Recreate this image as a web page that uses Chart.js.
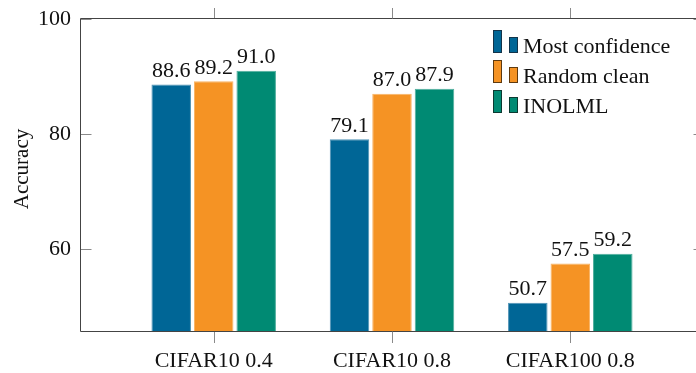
<!DOCTYPE html>
<html>
<head>
<meta charset="utf-8">
<script src="https://cdn.jsdelivr.net/npm/chart.js@4.4.1/dist/chart.umd.min.js"></script>
<style>
  html, body { margin: 0; padding: 0; background: #fff; overflow: hidden; width: 696px; height: 373px; }
  canvas { display: block; }
</style>
</head>
<body>
<canvas id="chart" width="712" height="373" style="width:712px;height:373px"></canvas>
<script>
// Categories and accuracy values per method
const categories = ['CIFAR10 0.4', 'CIFAR10 0.8', 'CIFAR100 0.8'];
const seriesNames = ['Most confidence', 'Random clean', 'INOLML'];
const mostConfidence = [88.6, 79.1, 50.7];
const randomClean = [89.2, 87.0, 57.5];
const inolml = [91.0, 87.9, 59.2];
const yTickValues = [60, 80, 100];

const series = [mostConfidence, randomClean, inolml];

const FONT_FAMILY = '"Liberation Serif", "Times New Roman", serif';
const TEXT_COLOR = '#111';
const fills = ['#006696', '#f59324', '#008a73'];
const edges = ['#4f92b5', '#f8b466', '#4fae9d'];
const outlines = ['#13344a', '#5e3a10', '#0c3a31'];

const toPoints = vals => vals.map((v, i) => ({ x: i, y: v }));

// Axis frame with inward y ticks and outward x ticks, value labels, title and legend
const framePlugin = {
  id: 'frame',
  afterDatasetsDraw(chart) {
    const { ctx, scales } = chart;
    const L = 80.5, R = 704.5, T = 18.5, B = 331.5;
    ctx.save();
    ctx.lineWidth = 1;
    ctx.strokeStyle = '#8a8a8a';
    ctx.beginPath();
    yTickValues.forEach(v => {
      const py = Math.round(scales.y.getPixelForValue(v)) + 0.5;
      ctx.moveTo(L, py); ctx.lineTo(L + 11, py);
      ctx.moveTo(R, py); ctx.lineTo(R - 11, py);
    });
    categories.forEach((c, i) => {
      const px = Math.round(scales.x.getPixelForValue(i)) + 0.5;
      ctx.moveTo(px, T); ctx.lineTo(px, T - 10.5);
      ctx.moveTo(px, B); ctx.lineTo(px, B + 11.5);
    });
    ctx.stroke();
    ctx.strokeStyle = '#444';
    ctx.beginPath();
    ctx.rect(L, T, R - L, B - T);
    ctx.stroke();

    // value labels above each bar
    ctx.fillStyle = TEXT_COLOR;
    ctx.font = '22px ' + FONT_FAMILY;
    ctx.textAlign = 'center';
    ctx.textBaseline = 'alphabetic';
    chart.data.datasets.forEach((ds, i) => {
      chart.getDatasetMeta(i).data.forEach((el, j) => {
        ctx.fillText(series[i][j].toFixed(1), el.x, el.y - 7.5);
      });
    });

    // y-axis title
    ctx.save();
    ctx.font = '21px ' + FONT_FAMILY;
    ctx.translate(28, 169);
    ctx.rotate(-Math.PI / 2);
    ctx.fillText('Accuracy', 0, 0);
    ctx.restore();

    // legend with bar-style icons
    ctx.textAlign = 'left';
    ctx.font = '22px ' + FONT_FAMILY;
    chart.data.datasets.forEach((ds, i) => {
      const base = 52.5 + 30 * i;
      ctx.fillStyle = ds.backgroundColor;
      ctx.strokeStyle = outlines[i];
      ctx.fillRect(493.5, base - 22, 8, 22);
      ctx.strokeRect(493.5, base - 22, 8, 22);
      ctx.fillRect(509.5, base - 15, 8, 15);
      ctx.strokeRect(509.5, base - 15, 8, 15);
      ctx.fillStyle = TEXT_COLOR;
      ctx.fillText(ds.label, 523, base);
    });
    ctx.restore();
  }
};

new Chart(document.getElementById('chart'), {
  type: 'bar',
  data: {
    datasets: series.map((vals, i) => ({
      label: seriesNames[i],
      data: toPoints(vals),
      backgroundColor: fills[i],
      borderColor: edges[i],
      borderWidth: { left: 1, right: 1, top: 1, bottom: 0 },
      borderSkipped: false,
      categoryPercentage: 0.715,
      barPercentage: 0.93
    }))
  },
  options: {
    responsive: false,
    devicePixelRatio: 1,
    animation: false,
    layout: { padding: { left: 0, right: 8, top: 19, bottom: 0 } },
    plugins: { legend: { display: false }, tooltip: { enabled: false } },
    scales: {
      x: {
        type: 'linear',
        min: -0.75,
        max: 2.75,
        offset: false,
        grid: { display: false, drawTicks: false },
        border: { display: false },
        afterBuildTicks: s => { s.ticks = categories.map((c, i) => ({ value: i })); },
        afterFit: s => { s.height = 41.5; },
        ticks: {
          padding: 17,
          color: TEXT_COLOR,
          font: { family: FONT_FAMILY, size: 22 },
          maxRotation: 0,
          autoSkip: false,
          callback: v => categories[v] ?? ''
        }
      },
      y: {
        min: 45.7,
        max: 100,
        grid: { display: false, drawTicks: false },
        border: { display: false },
        afterBuildTicks: s => { s.ticks = yTickValues.map(v => ({ value: v })); },
        afterFit: s => { s.width = 80; },
        ticks: {
          padding: 9,
          color: TEXT_COLOR,
          font: { family: FONT_FAMILY, size: 22, lineHeight: 0.8 }
        }
      }
    }
  },
  plugins: [framePlugin]
});
</script>
</body>
</html>
